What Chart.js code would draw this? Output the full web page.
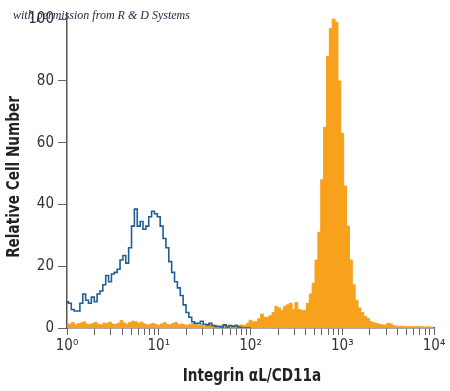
<!DOCTYPE html>
<html lang="en">
<head>
    <meta charset="UTF-8">
    <title>Integrin aL/CD11a histogram</title>
    <script src="https://cdn.jsdelivr.net/npm/chart.js@4.4.0/dist/chart.umd.min.js"></script>
</head>
<style>
    body {
        margin: 0;
        background: #fff;
    }
</style>
<body>
    <canvas id="grafica" width="450" height="391"></canvas>

    <script>
        // Histograma: 128 canales sobre 4 décadas (32 canales por década)
        const blueCounts = [
            8.5, 8, 6, 5.5, 5.5, 8, 11, 9, 8, 10,
            8.5, 11, 12, 14, 17, 15, 17.5, 18, 19, 22,
            23.5, 21, 26, 33, 38.5, 33, 34.5, 32, 33, 36,
            37.8, 37, 36, 33, 29, 26, 21.5, 18, 15, 13,
            10.5, 7.5, 5, 3.5, 2, 1.5, 1.5, 2.2, 1.2, 1,
            1.5, 0.8, 0.5, 0.5, 0.3, 1, 0.3, 0.8, 0.5, 0.8,
            0.3, 0, 0, 0, 0
        ];
        const orangeCounts = [
            1.5, 1.2, 1.8, 1.0, 1.4, 1.6, 2.0, 1.3, 1.1, 1.5,
            1.8, 1.2, 1.0, 1.6, 1.4, 1.9, 1.3, 1.1, 1.5, 2.4,
            1.6, 1.2, 1.8, 2.2, 2.0, 1.5, 1.9, 1.3, 1.0, 1.2,
            1.5, 1.1, 0.9, 1.3, 1.7, 1.2, 1.0, 1.4, 1.8, 1.1,
            1.3, 1.0, 0.9, 1.2, 1.5,
            1.0, 0.8, 1.2, 0.6, 0.9, 1.1, 0.7, 1.0, 0.6, 0.8,
            1.2, 0.9, 0.5, 0.7, 1.0, 0.8, 1.0, 0.8, 1.5,
            2.5, 2, 2, 3, 4.5, 3.5, 3.5, 4, 5, 7,
            6.5, 5.7, 7, 7.5, 8, 6, 8.3, 6, 5.7, 5.7,
            8, 11, 14.5, 22, 31, 48, 65, 88, 97, 100,
            99, 80, 63, 46, 33, 22, 14, 9, 6.5, 5,
            3.8, 3, 2, 1.7, 1.5, 1.2, 1, 1, 1.5, 1.3,
            0.7,
            0.6, 0.5, 0.6, 0.5, 0.4, 0.5, 0.4, 0.5, 0.4, 0.4,
            0.3, 0.4, 0.3, 0
        ];
        const yTicks = [0, 20, 40, 60, 80, 100];
        const xTickLabels = ["10\u2070", "10\u00b9", "10\u00b2", "10\u00b3", "10\u2074"];
        const decadeChannels = [0, 32, 64, 96, 128];
        const canalesPorDecada = 32;

        const fuente = "'Liberation Sans Narrow', 'DejaVu Sans Condensed', 'Roboto', sans-serif";

        // Ticks menores en posiciones logarítmicas (2..9 de cada década)
        const xTicks = [];
        decadeChannels.forEach((c, d) => {
            xTicks.push({ value: c });
            if (d < 4) {
                for (let k = 2; k <= 9; k++) {
                    xTicks.push({ value: c + canalesPorDecada * Math.log10(k) });
                }
            }
        });

        const titulos = {
            id: "titulos",
            afterDraw(chart) {
                const ctx = chart.ctx;
                ctx.save();
                ctx.fillStyle = "#222";
                ctx.font = "bold 18px " + fuente;
                ctx.textAlign = "center";
                ctx.textBaseline = "middle";
                ctx.save();
                ctx.translate(252, 376);
                ctx.scale(0.84, 1);
                ctx.fillText("Integrin \u03b1L/CD11a", 0, 0);
                ctx.restore();

                ctx.translate(14, 177);
                ctx.rotate(-Math.PI / 2);
                ctx.scale(0.84, 1);
                ctx.fillText("Relative Cell Number", 0, 0);
                ctx.restore();

                // marca de agua
                ctx.save();
                ctx.fillStyle = "#1b2548";
                ctx.font = "italic 12px 'Liberation Serif', 'DejaVu Serif', serif";
                ctx.textAlign = "left";
                ctx.textBaseline = "alphabetic";
                ctx.fillText("with permission from R & D Systems", 13, 19);
                ctx.restore();
            }
        };

        const ctx = document.querySelector("#grafica").getContext("2d");
        new Chart(ctx, {
            type: "line",
            data: {
                datasets: [
                    {
                        label: "Control",
                        data: blueCounts.map((y, i) => ({ x: i, y: y })),
                        borderColor: "#1f5f93",
                        borderWidth: 1.6,
                        backgroundColor: "transparent",
                        stepped: "middle",
                        pointRadius: 0,
                        fill: false,
                    },
                    {
                        label: "CD11a",
                        data: orangeCounts.map((y, i) => ({ x: i, y: y })),
                        borderColor: "#f7a11c",
                        borderWidth: 1,
                        backgroundColor: "#f7a11c",
                        stepped: "middle",
                        pointRadius: 0,
                        fill: "origin",
                    },
                ],
            },
            options: {
                responsive: false,
                animation: false,
                layout: { padding: { top: 0, right: 16, left: 0, bottom: 0 } },
                plugins: {
                    legend: { display: false },
                    tooltip: { enabled: false },
                },
                scales: {
                    x: {
                        type: "linear",
                        min: 0,
                        max: 128,
                        afterBuildTicks: (scale) => { scale.ticks = xTicks.map(t => ({ value: t.value })); },
                        afterFit: (scale) => { scale.height = 63; },
                        ticks: {
                            autoSkip: false,
                            maxRotation: 0,
                            padding: 2,
                            color: "#333",
                            font: { family: fuente, size: 15 },
                            callback: (v) => {
                                const i = decadeChannels.indexOf(v);
                                return i >= 0 ? xTickLabels[i] : "";
                            },
                        },
                        grid: {
                            drawOnChartArea: false,
                            tickLength: 7,
                            tickColor: "#666",
                            tickWidth: 1,
                        },
                        border: { color: "#555", width: 1.5 },
                    },
                    y: {
                        min: 0,
                        max: 102,
                        afterBuildTicks: (scale) => { scale.ticks = yTicks.map(v => ({ value: v })); },
                        afterFit: (scale) => { scale.width = 67; },
                        ticks: {
                            padding: 4,
                            color: "#333",
                            font: { family: fuente, size: 15 },
                        },
                        grid: {
                            drawOnChartArea: false,
                            tickLength: 9,
                            tickColor: "#666",
                            tickWidth: 1,
                        },
                        border: { color: "#555", width: 1.5 },
                    },
                },
            },
            plugins: [titulos],
        });
    </script>
</body>
</html>
